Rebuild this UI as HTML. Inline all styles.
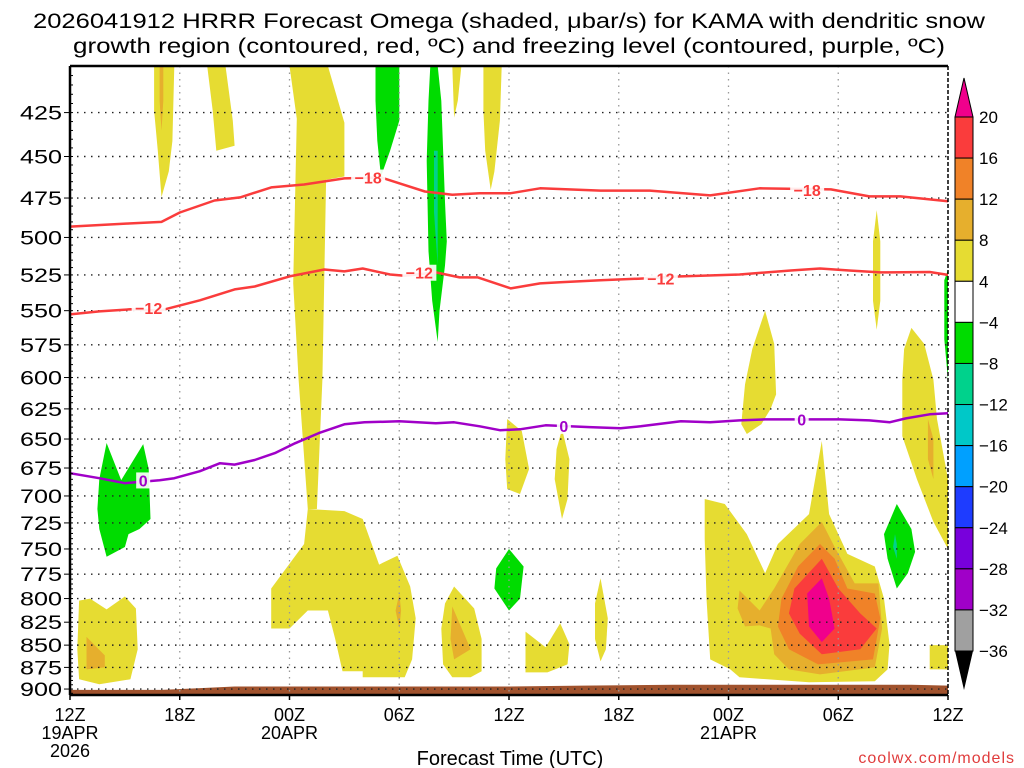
<!DOCTYPE html>
<html><head><meta charset="utf-8">
<style>
html,body{margin:0;padding:0;background:#fff;}
svg{display:block;font-family:"Liberation Sans",sans-serif;}
</style></head>
<body>
<svg id="chart" width="1024" height="768" viewBox="0 0 1024 768">
<text x="509" y="28" text-anchor="middle" font-size="21" textLength="952" lengthAdjust="spacingAndGlyphs">2026041912 HRRR Forecast Omega (shaded, μbar/s) for KAMA with dendritic snow</text>
<text x="509" y="53" text-anchor="middle" font-size="21" textLength="872" lengthAdjust="spacingAndGlyphs">growth region (contoured, red, ºC) and freezing level (contoured, purple, ºC)</text>
<g id="fills"></g>
<g id="grid"></g>
<g id="lines"></g>
<g id="axes"></g>
<g id="cbar"></g>
<text x="510" y="765" text-anchor="middle" font-size="20">Forecast Time (UTC)</text>
<text x="1015" y="763" text-anchor="end" font-size="16" fill="#e03c3c" letter-spacing="1">coolwx.com/models</text>
</svg>
<script>
// ---- data ----
const pressureTicks = [425,450,475,500,525,550,575,600,625,650,675,700,725,750,775,800,825,850,875,900];
const timeTickHours = [0,6,12,18,24,30,36,42,48];
const timeTickLabels = [["12Z","19APR","2026"],["18Z"],["00Z","20APR"],["06Z"],["12Z"],["18Z"],["00Z","21APR"],["06Z"],["12Z"]];
const cbarLevels = [20,16,12,8,4,-4,-8,-12,-16,-20,-24,-28,-32,-36];
const cbarColors = ["#fa3c3c","#f08228","#e6af2d","#e6dc32","#ffffff","#00dc00","#00d28c","#00c8c8","#00a0ff","#1e3cff","#7800dc","#a000c8","#a0a0a0"];

const minus18Hours = [0,3.2,5,6,7.9,9.3,11,12.8,15,17,18,19.4,20.9,22.4,24.1,25.7,29,31.7,35,37.7,41.6,43.7,45.4,48];
const minus18Pres  = [493,491,490,484,476.5,474.6,468.5,466.7,463,462.5,466,471,473,472,472,469,470.4,470.4,473.4,469,469.7,474,474,477];
const minus12Hours = [0,1.6,3.3,4.9,7.1,9,10.1,12,13.9,15,16,17.5,18.3,20,21.3,22.3,24.1,25.7,26.8,29,31.2,33.4,36.6,39.4,41,42.6,44.3,47,48];
const minus12Pres  = [552.7,550.5,549,550,542.6,535,533,526,521.3,522.6,520.6,524.7,525.6,523.3,526.7,526.7,534.3,530.8,530,528.6,527.5,526,524.7,522,520.6,522,523.3,523,525];
const freezeHours = [0,1.6,3,4.9,5.7,7.1,8.2,9,10.1,11.2,12.3,13.6,15,16.1,18,20,21,22.4,23.5,24.6,26,28.4,30.1,31.2,33.4,35,36.6,38,42.1,43.7,44.8,45.7,47,48];
const freezePres  = [679.6,684,688.5,685.8,684,677.8,670.8,672,668,662,653.6,645,637.7,636,635.2,636.8,636,639.3,642.6,641.8,638.5,640,641,639.3,635.2,636,634.4,633.6,633.6,634.4,636,632.8,629.4,628.6];
const terrainHours = [0,5,7,9,12,24,28,33,36,46,48];
const terrainPres  = [901,901,899,897,897,897,896,895,895,895,896];

const contourLabels = [
 {text:"−18", h:16.3, p:462.5, c:"#fa3c3c"},
 {text:"−18", h:40.3, p:470, c:"#fa3c3c"},
 {text:"−12", h:4.3, p:548, c:"#fa3c3c"},
 {text:"−12", h:19.1, p:523.5, c:"#fa3c3c"},
 {text:"−12", h:32.3, p:527.5, c:"#fa3c3c"},
 {text:"0", h:4.0, p:686, c:"#a000c8"},
 {text:"0", h:27.0, p:639, c:"#a000c8"},
 {text:"0", h:40.0, p:633.6, c:"#a000c8"}
];

const shadedRegions = [
 {c:"#e6dc32", n:"yellow-spike-a", pts:[[4.6,400],[5.7,400],[5.6,441],[5.4,458.8],[5.0,474.4],[4.8,446.6],[4.6,423.9]]},
 {c:"#e6af2d", n:"gold-streak-a", pts:[[4.9,400],[5.1,400],[5.1,418.5],[5.0,435.2],[4.9,418.5]]},
 {c:"#e6dc32", n:"yellow-block-b", pts:[[7.5,400],[8.5,400],[8.9,429.5],[9.0,443.8],[8.0,446.6],[7.8,423.9]]},
 {c:"#e6dc32", n:"yellow-column", pts:[[12.0,400],[14.1,400],[15.0,430.7],[15.0,461.9],[14.0,463.8],[13.9,526.4],[13.8,601.6],[13.5,712],[13.0,712],[12.5,601.6],[12.2,530.7],[12.3,477.5],[12.4,428.4]]},
 {c:"#e6dc32", n:"yellow-lower-mid", pts:[[13.0,712],[15.0,713.9],[16.0,721.3],[16.9,765.4],[17.9,756.7],[18.6,787.5],[18.9,820.8],[18.7,865.9],[18.3,886.4],[16.0,886.4],[16.0,879.5],[14.9,879.5],[14.5,843.2],[14.1,812.5],[13.0,812.5],[12.0,831.8],[11.0,831.8],[11.0,789.6],[12.8,745.2]]},
 {c:"#e6af2d", n:"gold-lower-mid", pts:[[18.0,794.8],[18.1,812.5],[18.0,831.8],[17.8,812.5]]},
 {c:"#00dc00", n:"green-column-1", pts:[[16.7,400],[18.0,400],[18.0,429.5],[17.5,446.6],[17.0,461.9],[16.8,440.9],[16.7,418.5]]},
 {c:"#00dc00", n:"green-column-2", pts:[[19.7,400],[20.1,400],[20.3,418.5],[20.5,477.5],[20.6,502.6],[20.5,518.6],[20.2,550],[20.1,572.9],[19.8,542.9],[19.6,509],[19.5,452.5],[19.6,418.5]]},
 {c:"#00d28c", n:"teal-column-2", pts:[[19.9,446.6],[20.1,446.6],[20.1,483.8],[20.1,518.6],[19.9,483.8]]},
 {c:"#e6dc32", n:"yellow-spike-c", pts:[[20.9,400],[21.4,400],[21.2,418.5],[21.0,427.8]]},
 {c:"#e6dc32", n:"yellow-spike-d", pts:[[22.6,400],[23.6,400],[23.5,429.5],[23.2,458.8],[23.0,470],[22.7,446.6],[22.6,423.9]]},
 {c:"#00dc00", n:"green-blob-left", pts:[[2.0,653.4],[2.8,685.7],[4.0,654.3],[4.3,675.9],[4.4,721.3],[3.8,730.8],[3.2,735.6],[3.0,748.1],[2.0,757.7],[1.6,730.8],[1.5,712],[1.6,684.8]]},
 {c:"#e6dc32", n:"yellow-blob-left", pts:[[0.5,802.1],[1.1,800],[2.0,811.4],[3.0,797.9],[3.6,810.4],[3.7,854.5],[3.3,888.6],[1.6,894.3],[0.5,888.6],[0.4,854.5]]},
 {c:"#e6af2d", n:"gold-blob-left", pts:[[0.9,840.9],[1.9,861.4],[1.9,875],[0.9,877.3]]},
 {c:"#e6dc32", n:"yellow-blob-12z", pts:[[21.0,787.5],[22.1,810.4],[22.5,843.2],[22.5,879.5],[21.9,886.4],[20.9,886.4],[20.4,871.6],[20.3,831.8],[20.5,805.2]]},
 {c:"#e6af2d", n:"gold-blob-12z", pts:[[20.9,808.3],[21.9,854.5],[21.0,865.9],[20.8,843.2]]},
 {c:"#00dc00", n:"green-blob-12z", pts:[[24.0,750],[24.8,767.3],[24.6,800],[24.0,812.5],[23.2,789.6],[23.3,769.2]]},
 {c:"#e6dc32", n:"yellow-blob-e", pts:[[23.9,633.3],[24.7,643.3],[25.1,675.9],[24.6,698.2],[23.9,693.8],[23.8,667.2]]},
 {c:"#e6dc32", n:"yellow-blob-f", pts:[[26.9,641.7],[27.3,667.2],[27.2,702.8],[26.9,721.3],[26.5,684.8],[26.6,658.6]]},
 {c:"#e6dc32", n:"yellow-blob-g", pts:[[24.9,835.2],[26.0,852.3],[26.8,826.1],[27.3,848.9],[27.2,871.6],[26.1,880.7],[24.9,880.7]]},
 {c:"#e6dc32", n:"yellow-blob-h", pts:[[29.0,779.2],[29.4,820.8],[29.3,854.5],[29.0,868.2],[28.7,843.2],[28.7,805.2]]},
 {c:"#e6dc32", n:"yellow-blob-i", pts:[[38.0,550],[38.5,574.3],[38.6,613.3],[38.3,625],[37.8,637.5],[37.0,645.8],[36.7,637.5],[36.9,605.5],[37.3,578.1]]},
 {c:"#e6dc32", n:"yellow-big-right", pts:[[34.7,702.8],[35.8,707.4],[37.0,735.6],[38.0,774],[38.7,745.2],[40.4,716.7],[41.1,651.7],[41.5,716.7],[42.5,754.8],[44.0,767.3],[44.5,800],[44.8,848.9],[44.7,877.3],[44.0,890.9],[40.4,892],[36.6,886.4],[36.1,877.3],[35.0,865.9],[34.8,800],[34.7,740.4]]},
 {c:"#e6af2d", n:"gold-big-right", pts:[[36.6,791.7],[37.7,812.5],[38.5,789.6],[39.9,745.2],[41.1,724],[41.8,748.1],[42.9,784.4],[44.2,784.4],[44.4,831.8],[44.0,875],[41.0,883],[39.3,877.3],[38.5,860.2],[38.3,831.8],[37.7,828.5],[36.9,829.5],[36.5,810.4]]},
 {c:"#f08228", n:"orange-big-right", pts:[[41.0,745.2],[41.8,759.6],[42.5,789.6],[44.0,794.8],[44.3,820.8],[43.9,865.9],[40.9,871.6],[39.3,854.5],[38.7,829.5],[38.9,800],[39.8,767.3]]},
 {c:"#fa3c3c", n:"red-big-right", pts:[[41.1,759.6],[42.0,789.6],[43.2,815.6],[44.1,831.8],[43.2,854.5],[41.1,860.2],[39.9,837.5],[39.3,815.6],[39.6,789.6]]},
 {c:"#f0008c", n:"magenta-core", pts:[[41.1,779.2],[41.5,800],[41.8,831.8],[41.1,846.6],[40.4,829.5],[40.3,794.8]]},
 {c:"#00dc00", n:"green-blob-right", pts:[[45.2,707.4],[46.0,730.8],[46.2,752.9],[45.8,774],[45.2,789.6],[44.7,759.6],[44.5,735.6]]},
 {c:"#00d28c", n:"teal-blob-right", pts:[[45.1,735.6],[45.2,745.2],[45.2,759.6],[45.0,748.1]]},
 {c:"#e6dc32", n:"yellow-strip-right", pts:[[46.0,562.5],[46.7,574.3],[47.2,601.6],[47.4,633.3],[47.8,667.2],[48,684.8],[48,750],[47.2,724],[46.3,684.8],[45.5,647.5],[45.5,601.6],[45.6,578.1]]},
 {c:"#e6af2d", n:"gold-strip-right", pts:[[46.9,633.3],[47.2,650],[47.2,684.8],[46.9,667.2]]},
 {c:"#e6dc32", n:"yellow-corner-right", pts:[[47.0,850],[48,850],[48,877.3],[47,877.3]]},
 {c:"#e6dc32", n:"yellow-spike-right", pts:[[44.1,482.5],[44.3,502.6],[44.3,542.9],[44.1,563.9],[43.9,542.9],[43.9,502.6]]},
 {c:"#00dc00", n:"green-edge-right", pts:[[47.8,528.6],[48,521.3],[48,601.6],[47.8,570.8]]}
];

// ---- scales ----
const X0=70, X1=948, Y0=66, Y1=695;
const PMIN=400, PMAX=907;
const K=(Y1-Y0)/Math.log(PMAX/PMIN);
function xs(h){return X0+(X1-X0)*h/48;}
function ys(p){return Y0+K*Math.log(p/PMIN);}
const NS="http://www.w3.org/2000/svg";
function mk(tag,attrs,parent){const e=document.createElementNS(NS,tag);for(const k in attrs)e.setAttribute(k,attrs[k]);parent.appendChild(e);return e;}
const fills=document.getElementById('fills'),grid=document.getElementById('grid'),lines=document.getElementById('lines'),axes=document.getElementById('axes'),cbar=document.getElementById('cbar');

shadedRegions.forEach(r=>{
  const el=mk('polygon',{points:r.pts.map(q=>xs(q[0]).toFixed(1)+','+ys(q[1]).toFixed(1)).join(' '),fill:r.c},fills);
  
  
});
{
  let d='M'+xs(terrainHours[0])+','+Y1;
  terrainHours.forEach((h,i)=>{d+=' L'+xs(h).toFixed(1)+','+ys(terrainPres[i]).toFixed(1);});
  d+=' L'+xs(terrainHours[terrainHours.length-1])+','+Y1+' Z';
  const t=mk('path',{d:d,fill:'#a0522d'},fills);
  
  
}
pressureTicks.forEach(p=>{
  const y=ys(p);
  const g=mk('line',{x1:X0,x2:X1,y1:y,y2:y,stroke:'#222','stroke-width':1.4,'stroke-dasharray':'1.5 5.5'},grid);
  
  
  const lb=mk('text',{x:62,y:y+7,'text-anchor':'end','font-size':19,textLength:42,lengthAdjust:'spacingAndGlyphs'},axes);
  lb.textContent=p;
  
  
  mk('line',{x1:X0-6,x2:X0,y1:y,y2:y,stroke:'#000','stroke-width':1},axes);
});
for(let p=405;p<=905;p+=5){const y=ys(p);if(y>Y1)break;mk('line',{x1:X0,x2:X0+3,y1:y,y2:y,stroke:'#000','stroke-width':1},axes);}
timeTickHours.forEach((h,i)=>{
  const x=xs(h);
  if(i>0&&i<timeTickHours.length-1){
    const g=mk('line',{x1:x,x2:x,y1:Y0,y2:Y1,stroke:'#999','stroke-width':1.3,'stroke-dasharray':'1.5 5'},grid);
    
    
  }
  mk('line',{x1:x,x2:x,y1:Y1,y2:Y1+5,stroke:'#000','stroke-width':1.5},axes);
  timeTickLabels[i].forEach((s,j)=>{
    const t=mk('text',{x:x,y:721+j*18,'text-anchor':'middle','font-size':18},axes);
    t.textContent=s;
    
    
  });
});
function drawLine(hs,ps,color,name){
  const d=hs.map((h,i)=>(i?'L':'M')+xs(h).toFixed(1)+','+ys(ps[i]).toFixed(1)).join(' ');
  const l=mk('path',{d:d,fill:'none',stroke:color,'stroke-width':2.5,'stroke-linejoin':'round'},lines);
  
  
}
drawLine(minus18Hours,minus18Pres,'#fa3c3c','contour-minus18');
drawLine(minus12Hours,minus12Pres,'#fa3c3c','contour-minus12');
drawLine(freezeHours,freezePres,'#a000c8','freezing-level-line');
contourLabels.forEach(c=>{
  const x=xs(c.h),y=ys(c.p);const w=c.text.length*10+4;
  mk('rect',{x:x-w/2,y:y-8,width:w,height:16,fill:'#fff','fill-opacity':0.9},lines);
  const t=mk('text',{x:x,y:y+6,'text-anchor':'middle','font-size':16,'font-weight':'bold',fill:c.c},lines);
  t.textContent=c.text;
  
  
});
mk('line',{x1:X0,x2:X1,y1:Y0,y2:Y0,stroke:'#000','stroke-width':2.5},axes);
mk('line',{x1:X0,x2:X1,y1:Y1,y2:Y1,stroke:'#000','stroke-width':2.5},axes);
mk('line',{x1:X0,x2:X0,y1:Y0,y2:Y1,stroke:'#000','stroke-width':2.5},axes);
mk('line',{x1:X1,x2:X1,y1:Y0,y2:Y1,stroke:'#000','stroke-width':1.5,'stroke-dasharray':'4 2'},axes);
const CX=955,CW=18,CT=117,CB=651;
const step=(CB-CT)/(cbarLevels.length-1);
cbarColors.forEach((c,i)=>{
  const r=mk('rect',{x:CX,y:CT+i*step,width:CW,height:step,fill:c,stroke:'#000','stroke-width':1},cbar);
  
  
});
{
  const a=mk('polygon',{points:`${CX},${CT} ${CX+CW},${CT} ${CX+CW/2},${CT-39}`,fill:'#f0008c',stroke:'#000','stroke-width':1},cbar);
  
  
  const b=mk('polygon',{points:`${CX},${CB} ${CX+CW},${CB} ${CX+CW/2},${CB+39}`,fill:'#000'},cbar);
  
  
}
cbarLevels.forEach((v,i)=>{
  const t=mk('text',{x:979,y:CT+i*step+6,'font-size':17},cbar);
  t.textContent=v<0?'−'+(-v):String(v);
  
  
});
</script>
</body></html>
